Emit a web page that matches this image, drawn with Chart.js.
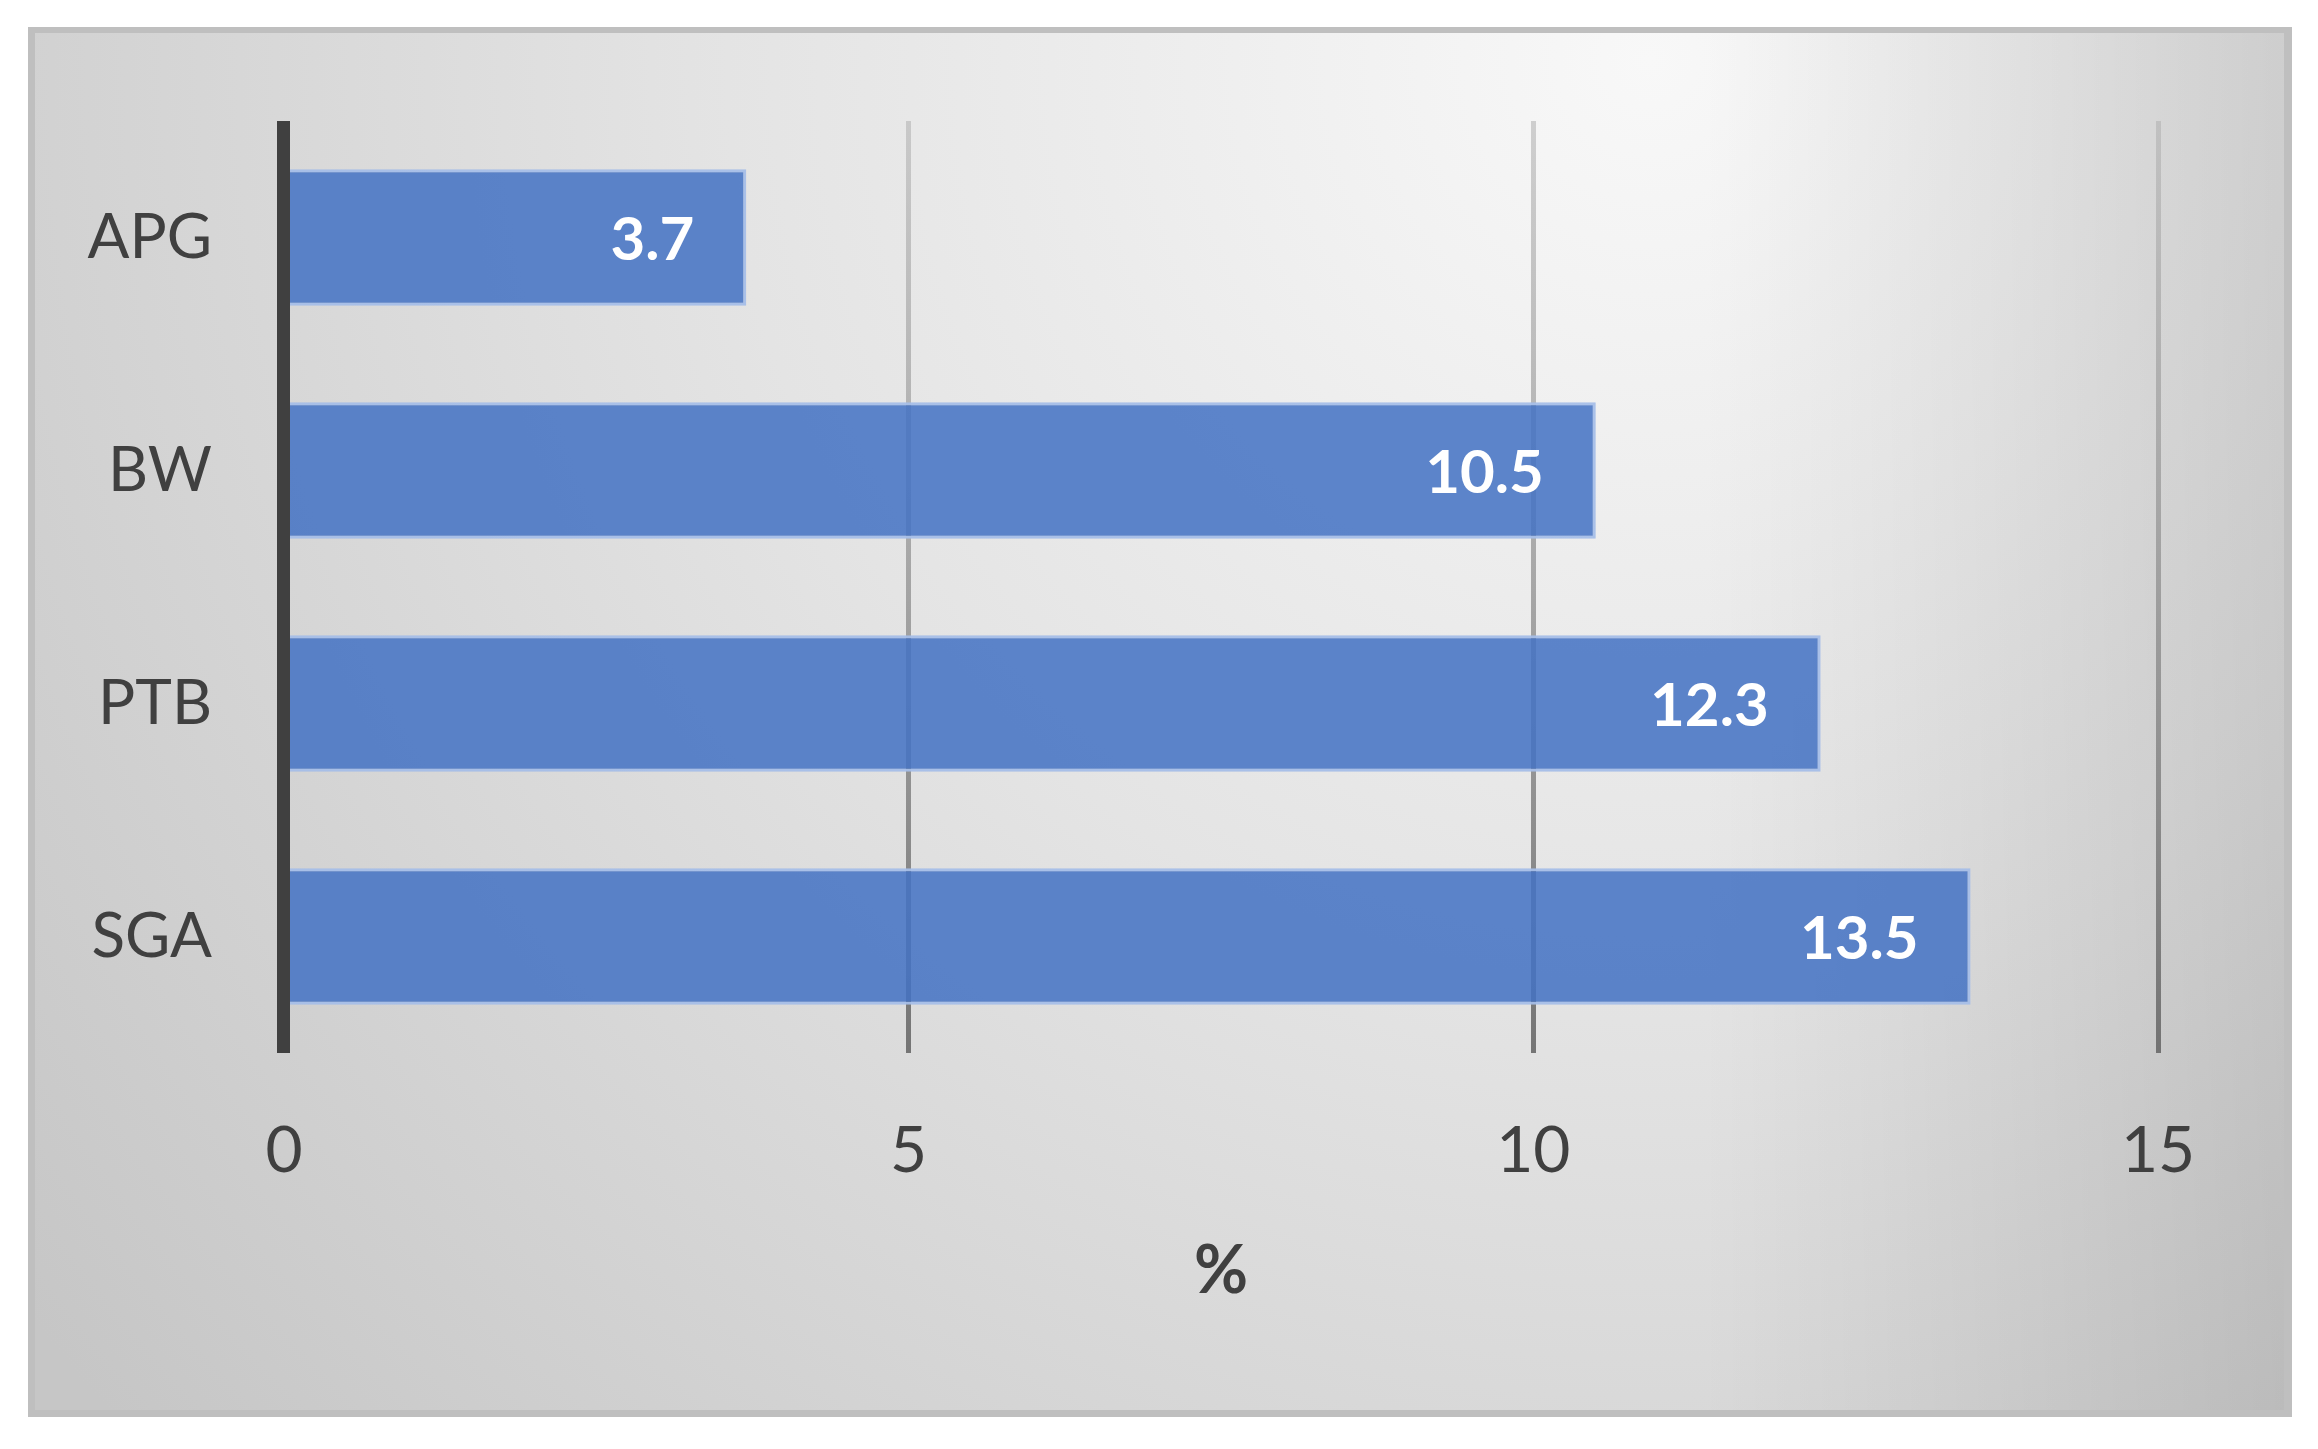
<!DOCTYPE html>
<html>
<head>
<meta charset="utf-8">
<script src="https://cdn.jsdelivr.net/npm/chart.js@4/dist/chart.umd.min.js"></script>
<style>
  html, body { margin: 0; padding: 0; background: #ffffff; }
  #wrap { width: 2318px; height: 1449px; }
</style>
</head>
<body>
<div id="wrap"><canvas id="c" width="2318" height="1449"></canvas></div>
<script>
// ---- data ----
const categories = ["APG", "BW", "PTB", "SGA"];
const values = [3.7, 10.5, 12.3, 13.5];
const xTickValues = [0, 5, 10, 15];
const xTitle = "%";

const FONT = "Lato, 'Open Sans', sans-serif";
const TEXT = "#404040";

const bgPlugin = {
  id: "frameBg",
  beforeDraw(chart) {
    const ctx = chart.ctx;
    ctx.save();
    ctx.fillStyle = "#ffffff";
    ctx.fillRect(0, 0, chart.width, chart.height);
    ctx.fillStyle = "#bfbfbf";
    ctx.fillRect(28, 27, 2264, 1390);
    const x0 = 35, y0 = 33, w = 2249, h = 1377;
    const g = ctx.createRadialGradient(1650, 60, 0, 1650, 60, 2050);
    g.addColorStop(0, "#f8f8f8");
    g.addColorStop(0.45, "#e4e4e4");
    g.addColorStop(1, "#c6c6c6");
    ctx.fillStyle = g;
    ctx.fillRect(x0, y0, w, h);
    const lg = ctx.createLinearGradient(1700, 0, x0 + w, 0);
    lg.addColorStop(0, "rgba(0,0,0,0)");
    lg.addColorStop(1, "rgba(0,0,0,0.12)");
    ctx.fillStyle = lg;
    ctx.fillRect(1700, y0, x0 + w - 1700, h);
    ctx.restore();
  }
};

const overlayPlugin = {
  id: "barLabels",
  afterDatasetsDraw(chart) {
    const ctx = chart.ctx;
    const ca = chart.chartArea;
    const x0 = chart.scales.x.getPixelForValue(0);
    ctx.save();
    ctx.fillStyle = "#404040";
    ctx.fillRect(x0 - 7, ca.top, 13, ca.bottom - ca.top);
    const meta = chart.getDatasetMeta(0);
    ctx.font = "bold 60px " + FONT;
    ctx.fillStyle = "#ffffff";
    ctx.textAlign = "right";
    ctx.textBaseline = "middle";
    meta.data.forEach((bar, i) => {
      ctx.fillText(String(values[i]), bar.x - 52, bar.y + 3);
    });
    ctx.restore();
  }
};

function gridColor(c) {
  const chart = c.chart;
  const ca = chart.chartArea;
  if (!ca) return "rgba(140,140,140,0.7)";
  const g = chart.ctx.createLinearGradient(0, ca.top, 0, ca.bottom);
  g.addColorStop(0, "rgba(175,175,175,0.55)");
  g.addColorStop(1, "rgba(105,105,105,0.9)");
  return g;
}

new Chart(document.getElementById("c"), {
  type: "bar",
  data: {
    labels: categories,
    datasets: [{
      data: values,
      backgroundColor: "rgba(68,114,196,0.86)",
      borderColor: "rgba(165,190,232,0.95)",
      borderWidth: 3,
      borderSkipped: "start",
      categoryPercentage: 1,
      barPercentage: 0.585
    }]
  },
  options: {
    indexAxis: "y",
    responsive: false,
    animation: false,
    devicePixelRatio: 1,
    layout: { padding: { left: 0, right: 160, top: 121, bottom: 0 } },
    plugins: { legend: { display: false }, tooltip: { enabled: false } },
    scales: {
      x: {
        type: "linear",
        min: 0,
        max: 15,
        afterBuildTicks: (s) => { s.ticks = xTickValues.map(v => ({ value: v })); },
        afterFit: (s) => { s.height = 1449 - 1053; },
        grid: { display: true, color: gridColor, lineWidth: 5, drawTicks: false },
        border: { display: false },
        ticks: { color: TEXT, font: { family: FONT, size: 64 }, padding: 60 },
        title: {
          display: true,
          text: xTitle,
          color: TEXT,
          font: { family: FONT, size: 66, weight: "bold" },
          padding: { top: 0, bottom: 138 }
        }
      },
      y: {
        afterFit: (s) => { s.width = 284; },
        grid: { display: false, drawTicks: false },
        border: { display: false },
        ticks: { color: TEXT, font: { family: FONT, size: 62 }, padding: 72 }
      }
    }
  },
  plugins: [bgPlugin, overlayPlugin]
});
</script>
</body>
</html>
